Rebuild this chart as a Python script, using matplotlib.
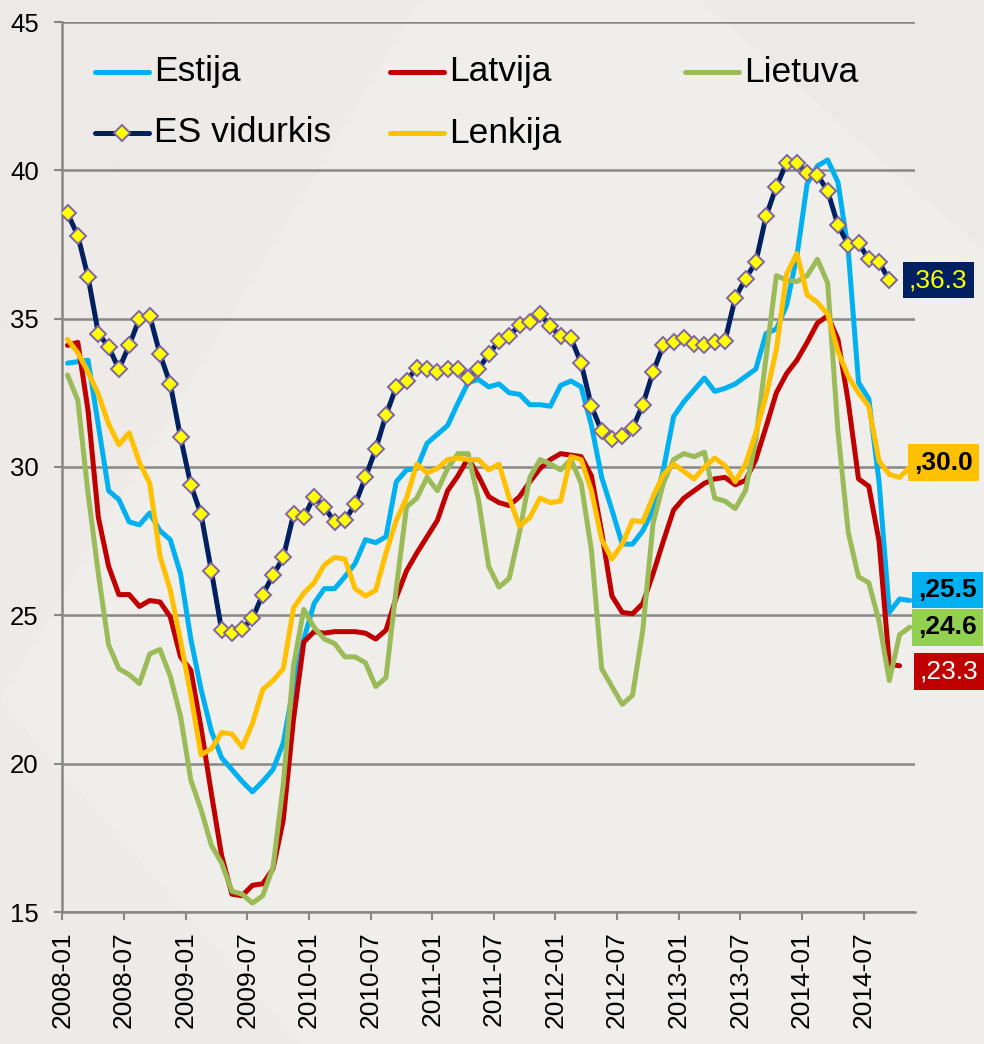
import matplotlib
matplotlib.use("Agg")
import matplotlib.pyplot as plt
from matplotlib.lines import Line2D
from matplotlib.patches import Polygon
from matplotlib.transforms import blended_transform_factory

plt.rcParams["font.family"] = ["Liberation Sans", "DejaVu Sans"]

# === DATA (monthly, 2008-01 ... 2014-11) ===

MONTH_LABELS = [f"{y}-{m:02d}" for y in range(2008, 2015) for m in range(1, 13)][:83]
TICK_LABELS = ["2008-01", "2008-07", "2009-01", "2009-07", "2010-01", "2010-07",
               "2011-01", "2011-07", "2012-01", "2012-07", "2013-01", "2013-07",
               "2014-01", "2014-07"]

estija = [33.5, 33.55, 33.6, 31.4, 29.2, 28.9, 28.15, 28.05, 28.45, 27.85,
          27.55, 26.4, 24.2, 22.5, 21.1, 20.2, 19.8, 19.4, 19.05, 19.4,
          19.8, 20.7, 22.6, 24.2, 25.4, 25.9, 25.9, 26.3, 26.75, 27.55,
          27.45, 27.65, 29.5, 29.9, 29.95, 30.8, 31.1, 31.4, 32.15, 32.85,
          32.95, 32.7, 32.8, 32.5, 32.45, 32.1, 32.1, 32.05, 32.75, 32.9,
          32.7, 31.4, 29.65, 28.55, 27.4, 27.4, 27.85, 28.55, 29.9, 31.7,
          32.2, 32.6, 33.0, 32.55, 32.65, 32.8, 33.05, 33.3, 34.5, 34.65,
          35.45, 37.1, 39.55, 40.15, 40.35, 39.6, 37.3, 32.85, 32.3, 29.5,
          25.1, 25.55, 25.5]

latvija = [34.1, 34.2, 31.9, 28.3, 26.65, 25.7, 25.7, 25.3, 25.5, 25.45,
           24.95, 23.6, 23.15, 21.2, 19.0, 16.9, 15.6, 15.55, 15.9, 15.95,
           16.45, 18.1, 21.5, 24.1, 24.45, 24.4, 24.45, 24.45, 24.45, 24.4,
           24.2, 24.5, 25.6, 26.5, 27.1, 27.65, 28.2, 29.2, 29.7, 30.3,
           29.7, 29.0, 28.8, 28.7, 29.0, 29.5, 29.95, 30.25, 30.45, 30.4,
           30.35, 29.7, 27.8, 25.65, 25.1, 25.05, 25.4, 26.4, 27.5, 28.55,
           28.95, 29.2, 29.45, 29.6, 29.65, 29.4, 29.55, 30.25, 31.35, 32.5,
           33.15, 33.6, 34.2, 34.85, 35.1, 34.3, 32.2, 29.6, 29.35, 27.5,
           23.35, 23.3]

lietuva = [33.1, 32.25, 29.1, 26.4, 24.0, 23.2, 23.0, 22.7, 23.7, 23.85,
           22.95, 21.6, 19.45, 18.45, 17.25, 16.65, 15.7, 15.6, 15.3, 15.55,
           16.5, 19.3, 23.3, 25.2, 24.6, 24.2, 24.05, 23.6, 23.6, 23.4,
           22.6, 22.9, 25.9, 28.65, 28.95, 29.65, 29.2, 29.95, 30.45, 30.45,
           28.9, 26.65, 25.95, 26.25, 27.8, 29.65, 30.25, 30.1, 29.9, 30.25,
           29.45, 27.2, 23.2, 22.6, 22.0, 22.3, 24.5, 28.1, 29.45, 30.25,
           30.45, 30.35, 30.5, 28.95, 28.85, 28.6, 29.2, 30.9, 33.7, 36.45,
           36.3, 36.25, 36.45, 37.0, 36.2, 31.2, 27.8, 26.3, 26.1, 24.8,
           22.8, 24.35, 24.6]

es_vidurkis = [38.55, 37.8, 36.4, 34.5, 34.05, 33.3, 34.1, 35.0, 35.1, 33.8,
               32.8, 31.0, 29.4, 28.4, 26.5, 24.5, 24.4, 24.55, 24.9, 25.7,
               26.35, 26.95, 28.4, 28.3, 29.0, 28.65, 28.15, 28.2, 28.75, 29.65,
               30.6, 31.75, 32.7, 32.9, 33.35, 33.3, 33.2, 33.3, 33.3, 33.0,
               33.3, 33.8, 34.25, 34.4, 34.8, 34.9, 35.15, 34.75, 34.4, 34.35,
               33.5, 32.05, 31.2, 30.95, 31.05, 31.3, 32.1, 33.2, 34.1, 34.2,
               34.35, 34.15, 34.1, 34.2, 34.25, 35.7, 36.35, 36.9, 38.45, 39.45,
               40.25, 40.25, 39.9, 39.85, 39.3, 38.15, 37.5, 37.55, 37.0, 36.9,
               36.3]

lenkija = [34.3, 33.85, 33.2, 32.45, 31.45, 30.75, 31.15, 30.15, 29.45, 27.0,
           25.85, 24.15, 22.3, 20.3, 20.5, 21.05, 21.0, 20.55, 21.35, 22.5,
           22.8, 23.2, 25.25, 25.75, 26.1, 26.7, 26.95, 26.9, 25.9, 25.65,
           25.85, 27.1, 28.2, 28.95, 30.1, 29.8, 29.95, 30.25, 30.3, 30.25,
           30.25, 29.9, 30.1, 28.95, 28.0, 28.3, 28.95, 28.8, 28.85, 30.35,
           30.25, 29.2, 27.55, 26.9, 27.4, 28.2, 28.15, 29.0, 29.75, 30.1,
           29.85, 29.6, 30.0, 30.3, 30.05, 29.5, 30.1, 31.15, 32.4, 33.95,
           36.5, 37.2, 35.8, 35.55, 35.15, 33.9, 33.05, 32.5, 32.05, 30.2,
           29.75, 29.65, 30.0]

# label boxes on the right: text, nudged centre value
LABEL_TEXT = {"ES vidurkis": ",36.3", "Lenkija": ",30.0", "Estija": ",25.5",
              "Lietuva": ",24.6", "Latvija": ",23.3"}
LABEL_Y = {"ES vidurkis": 36.3, "Lenkija": 30.15, "Estija": 25.85,
           "Lietuva": 24.6, "Latvija": 23.1}

# === STYLE ===

W, H = 984, 1044
C_EST = "#00B0F0"
C_LAT = "#C00000"
C_LIE = "#9BBB59"
C_ES = "#002060"
C_LEN = "#FFC000"
GRID = "#878787"
BG = "#EDEAE7"


def fx(px):
    return px / W


def fy(py):
    return 1 - py / H


fig = plt.figure(figsize=(W / 100, H / 100), dpi=100, facecolor=BG)

# faint background shapes
for pts, col in [
    ([(0, 700), (300, 1044), (984, 1044), (984, 250), (700, 0), (420, 0)], "#F0EEEB"),
    ([(420, 0), (700, 0), (984, 250), (984, 0)], "#ECE9E6"),
    ([(0, 0), (230, 0), (0, 330)], "#ECE9E6"),
]:
    fig.add_artist(Polygon([(fx(x), fy(y)) for x, y in pts], closed=True,
                           facecolor=col, edgecolor="none", zorder=0,
                           transform=fig.transFigure))

ax = fig.add_axes([fx(62.4), fy(912), fx(915) - fx(62.4), fy(22) - fy(912)])
ax.set_facecolor("none")

x = [i + 0.5 for i in range(len(MONTH_LABELS))]

lw = 3.6
ax.plot(x[:len(estija)], estija, color=C_EST, lw=lw, zorder=3, solid_capstyle="round")
ax.plot(x[:len(latvija)], latvija, color=C_LAT, lw=lw, zorder=4, solid_capstyle="round")
ax.plot(x[:len(lietuva)], lietuva, color=C_LIE, lw=lw, zorder=5, solid_capstyle="round")
ax.plot(x[:len(es_vidurkis)], es_vidurkis, color=C_ES, lw=lw, zorder=6,
        marker="D", ms=8.5, mfc="#FFFF00", mec="#8064A2", mew=1.4)
ax.plot(x[:len(lenkija)], lenkija, color=C_LEN, lw=lw, zorder=7, solid_capstyle="round")

ax.set_xlim(0, 83)
ax.set_ylim(15, 45)
ax.set_yticks([15, 20, 25, 30, 35, 40, 45])
ax.grid(axis="y", color=GRID, lw=1.8, zorder=1)
ax.set_axisbelow(True)

ax.set_xticks(range(0, 83, 6))
ax.set_xticklabels(TICK_LABELS, rotation=90, fontsize=19)
ax.tick_params(axis="x", length=6, width=1.5, color=GRID, pad=8)
ax.tick_params(axis="y", length=6, width=1.5, color=GRID, labelsize=18.5, pad=11)

for s in ["top", "right"]:
    ax.spines[s].set_visible(False)
for s in ["left", "bottom"]:
    ax.spines[s].set_color(GRID)
    ax.spines[s].set_linewidth(1.8)

# === LEGEND (manual, Excel-like two rows) ===
legend_items = [
    ("Estija", C_EST, False, 95, 72),
    ("Latvija", C_LAT, False, 390, 72),
    ("Lietuva", C_LIE, False, 685, 72),
    ("ES vidurkis", C_ES, True, 95, 133),
    ("Lenkija", C_LEN, False, 390, 133),
]
for name, col, mk, lx, ly in legend_items:
    fig.add_artist(Line2D([fx(lx), fx(lx + 54)], [fy(ly), fy(ly)], color=col,
                          lw=lw, solid_capstyle="round", transform=fig.transFigure, zorder=8))
    if mk:
        fig.add_artist(Line2D([fx(lx + 27)], [fy(ly)], marker="D", ms=8.5,
                              mfc="#FFFF00", mec="#8064A2", mew=1.4,
                              transform=fig.transFigure, zorder=9))
    fig.text(fx(lx + 59), fy(ly), name, fontsize=25.5, va="center", ha="left", zorder=9)

# === RIGHT-HAND VALUE LABELS ===
trans = blended_transform_factory(fig.transFigure, ax.transData)
label_style = [
    ("ES vidurkis", 909, C_ES, "#FFFF00", "normal"),
    ("Lenkija", 914, C_LEN, "black", "bold"),
    ("Estija", 918, C_EST, "black", "bold"),
    ("Lietuva", 918, "#92D050", "black", "bold"),
    ("Latvija", 920, C_LAT, "white", "normal"),
]
for name, tx, fc, tc, wt in label_style:
    ax.text(fx(tx), LABEL_Y[name], LABEL_TEXT[name], transform=trans, fontsize=19,
            color=tc, fontweight=wt, ha="left", va="center", clip_on=False, zorder=10,
            bbox=dict(boxstyle="square,pad=0.24", facecolor=fc, edgecolor="none"))

fig.savefig("out.png", dpi=100, facecolor=BG)
